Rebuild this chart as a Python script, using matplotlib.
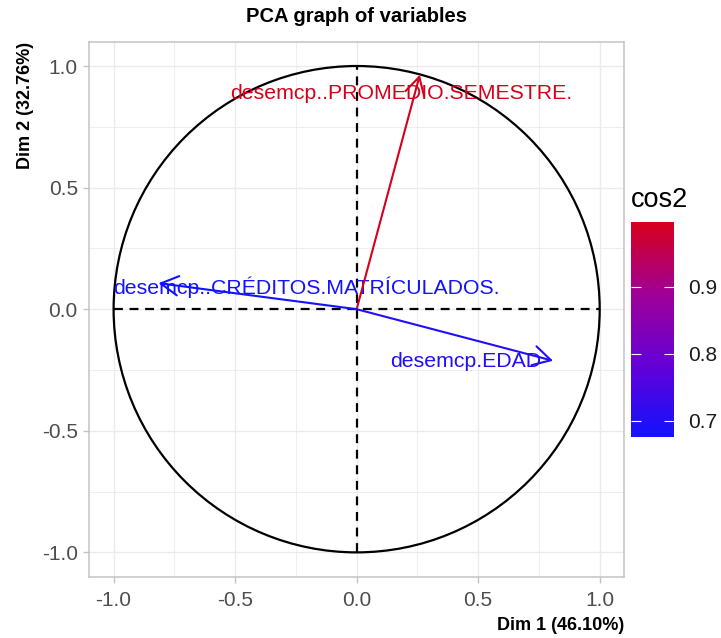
import numpy as np
import matplotlib
matplotlib.use('Agg')
import matplotlib.pyplot as plt
from matplotlib.patches import Circle
from matplotlib.colors import LinearSegmentedColormap, Normalize

plt.rcParams['font.family'] = ['Liberation Sans', 'DejaVu Sans']

# variable coordinates on Dim 1 / Dim 2
variables = ['desemcp..PROMEDIO.SEMESTRE.',
             'desemcp..CRÉDITOS.MATRÍCULADOS.',
             'desemcp.EDAD']
dim1 = [0.26, -0.815, 0.808]
dim2 = [0.964, 0.107, -0.212]
cos2 = [0.997, 0.676, 0.698]
# label offset from arrow tip (pixels)
label_dx = [-19, 148, -87]
label_dy = [-19, -4, -1]

dim_names = ['Dim 1 (46.10%)', 'Dim 2 (32.76%)']
ticks = [-1.0, -0.5, 0.0, 0.5, 1.0]
cbar_ticks = [0.7, 0.8, 0.9]

W, H = 721, 638
fig = plt.figure(figsize=(W / 100, H / 100), dpi=100)
ax = fig.add_axes([89.3 / W, 1 - 576.7 / H, (624 - 89.3) / W, (576.7 - 41.7) / H])

cmap = LinearSegmentedColormap.from_list(
    'cos2', ['#1212ff', '#6400d8', '#a00096', '#d6001a'])
norm = Normalize(vmin=min(cos2), vmax=max(cos2))

ax.set_xlim(-1.1, 1.1)
ax.set_ylim(-1.1, 1.1)
ax.set_xticks(ticks)
ax.set_yticks(ticks)
ax.set_xticklabels([f'{t:.1f}' for t in ticks])
ax.set_yticklabels([f'{t:.1f}' for t in ticks])
ax.set_xticks([-0.75, -0.25, 0.25, 0.75], minor=True)
ax.set_yticks([-0.75, -0.25, 0.25, 0.75], minor=True)
ax.grid(which='major', color='#ebebeb', lw=1.0)
ax.grid(which='minor', color='#ebebeb', lw=0.6)
ax.set_axisbelow(True)
ax.tick_params(which='major', length=4.3, width=1.0, color='#c4c4c4',
               labelsize=15, labelcolor='#4d4d4d', pad=4)
ax.tick_params(axis='x', pad=6)
ax.tick_params(which='minor', length=0)
for s in ax.spines.values():
    s.set_color('#c4c4c4')
    s.set_linewidth(1.1)

# unit circle and axes through origin
ax.add_patch(Circle((0, 0), 1.0, fill=False, color='black', lw=1.6, zorder=2))
ax.plot([-1, 1], [0, 0], color='black', lw=1.6, ls=(0, (4, 3)), zorder=2)
ax.plot([0, 0], [-1, 1], color='black', lw=1.6, ls=(0, (4, 3)), zorder=2)

for name, x, y, c, dx, dy in zip(variables, dim1, dim2, cos2, label_dx, label_dy):
    col = cmap(norm(c))
    ax.annotate('', xy=(x, y), xytext=(0, 0),
                arrowprops=dict(arrowstyle='->,head_length=0.9,head_width=0.5',
                                color=col, lw=1.5, shrinkA=0, shrinkB=0,
                                mutation_scale=14), zorder=4)
    ax.annotate(name, xy=(x, y), xytext=(dx, dy), textcoords='offset pixels',
                ha='center', va='center', fontsize=15.3, color=col, zorder=3)

fig.text(357 / W, 1 - 17 / H, 'PCA graph of variables', ha='center', va='center',
         fontsize=14.5, fontweight='bold', color='black')
fig.text(624 / W, 1 - 626 / H, dim_names[0], ha='right', va='center',
         fontsize=13, fontweight='bold', color='black')
fig.text(25 / W, 1 - 41.7 / H, dim_names[1], ha='center', va='top', rotation=90,
         fontsize=13, fontweight='bold', color='black')

# colour legend
cax = fig.add_axes([631 / W, 1 - 436.7 / H, 43 / W, 215 / H])
sm = plt.cm.ScalarMappable(norm=norm, cmap=cmap)
cb = fig.colorbar(sm, cax=cax)
cb.outline.set_visible(False)
cb.set_ticks(cbar_ticks)
cb.set_ticklabels([f'{t:.1f}' for t in cbar_ticks])
cax.yaxis.set_ticks_position('both')
cax.tick_params(direction='in', length=7, width=0.8, color='white',
                labelsize=15, labelcolor='#1a1a1a', pad=10.5,
                left=True, right=True, labelleft=False, labelright=True)
fig.text(631 / W, 1 - 200 / H, 'cos2', ha='left', va='center', fontsize=19.5,
         color='black')

fig.savefig('out.png', dpi=100)
